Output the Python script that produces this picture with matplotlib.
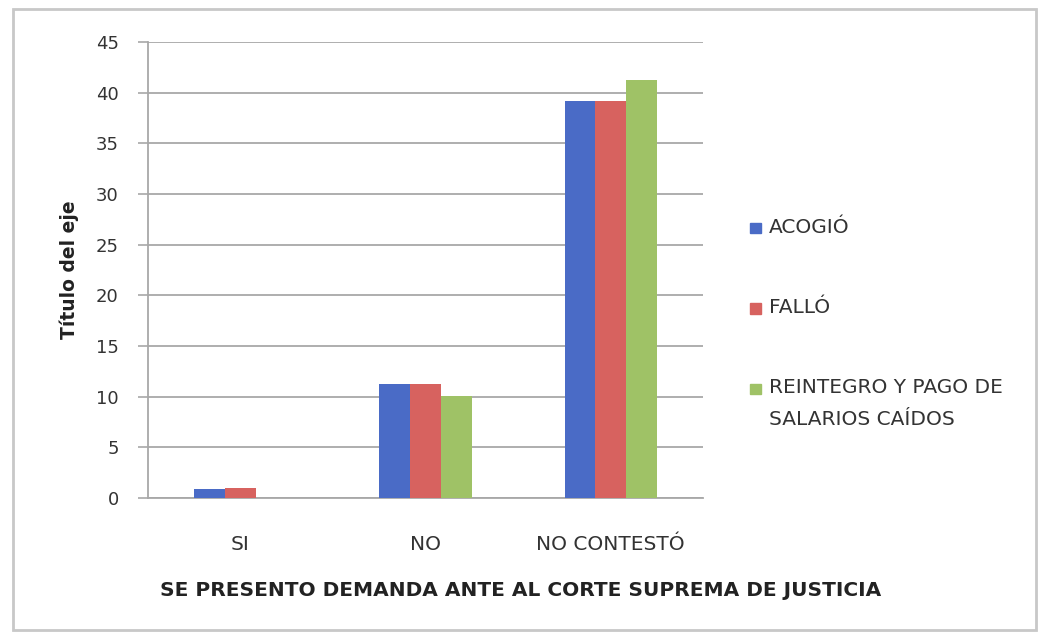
import numpy as np
import matplotlib
matplotlib.use('Agg')
import matplotlib.pyplot as plt
from matplotlib.patches import Rectangle

plt.rcParams['font.family'] = ['DejaVu Sans']

CATEGORIES = ['SI', 'NO', 'NO CONTESTÓ']
SERIES_NAMES = ['ACOGIÓ', 'FALLÓ', 'REINTEGRO Y PAGO DE\nSALARIOS CAÍDOS']
ACOGIO = [0.9, 11.2, 39.2]
FALLO = [1.0, 11.2, 39.2]
REINTEGRO = [0.0, 10.1, 41.2]
COLORS = ['#4a6bc6', '#d7625f', '#9fc266']
Y_TICKS = [0, 5, 10, 15, 20, 25, 30, 35, 40, 45]


def main():
    fig = plt.figure(figsize=(10.42, 6.36), dpi=100)
    ax = fig.add_axes([0.142, 0.217, 0.533, 0.717])

    x = np.arange(len(CATEGORIES))
    width = 1 / 6
    for i, (vals, color) in enumerate(zip([ACOGIO, FALLO, REINTEGRO], COLORS)):
        ax.bar(x + (i - 1) * width, vals, width, color=color, zorder=3)

    ax.set_xlim(-0.5, len(CATEGORIES) - 0.5)
    ax.set_ylim(0, 45)
    ax.set_yticks(Y_TICKS)
    ax.set_xticks(x)
    ax.set_xticklabels(CATEGORIES, fontsize=14.5, color='#333333')
    ax.tick_params(axis='y', labelsize=13, colors='#333333', length=7,
                   width=1.2, pad=14, color='#a8a8a8')
    ax.tick_params(axis='x', length=0, pad=27)
    ax.grid(axis='y', color='#a8a8a8', linewidth=1.3, zorder=0)
    for side in ['top', 'right']:
        ax.spines[side].set_visible(False)
    for side in ['left', 'bottom']:
        ax.spines[side].set_color('#a8a8a8')
        ax.spines[side].set_linewidth(1.3)

    ax.set_ylabel('Título del eje', fontsize=13.5, fontweight='bold',
                  color='#222222', labelpad=12)
    fig.text(0.50, 0.072, 'SE PRESENTO DEMANDA ANTE AL CORTE SUPREMA DE JUSTICIA',
             ha='center', va='center', fontsize=14.5, fontweight='bold',
             color='#222222')

    # leyenda manual (el marcador va junto a la primera linea)
    leg_y = [0.642, 0.516, 0.390]
    for name, color, yy in zip(SERIES_NAMES, COLORS, leg_y):
        fig.patches.append(Rectangle((0.7195, yy - 0.009), 0.011, 0.016,
                                     transform=fig.transFigure, color=color))
        for k, line in enumerate(name.split('\n')):
            fig.text(0.738, yy - k * 0.05, line, ha='left', va='center',
                     fontsize=14.5, color='#333333')

    fig.patches.append(Rectangle((0.012, 0.01), 0.982, 0.976, transform=fig.transFigure,
                                 fill=False, edgecolor='#c8c8c8', linewidth=2))

    fig.savefig('out.png', dpi=100)
    plt.close(fig)


if __name__ == '__main__':
    main()
